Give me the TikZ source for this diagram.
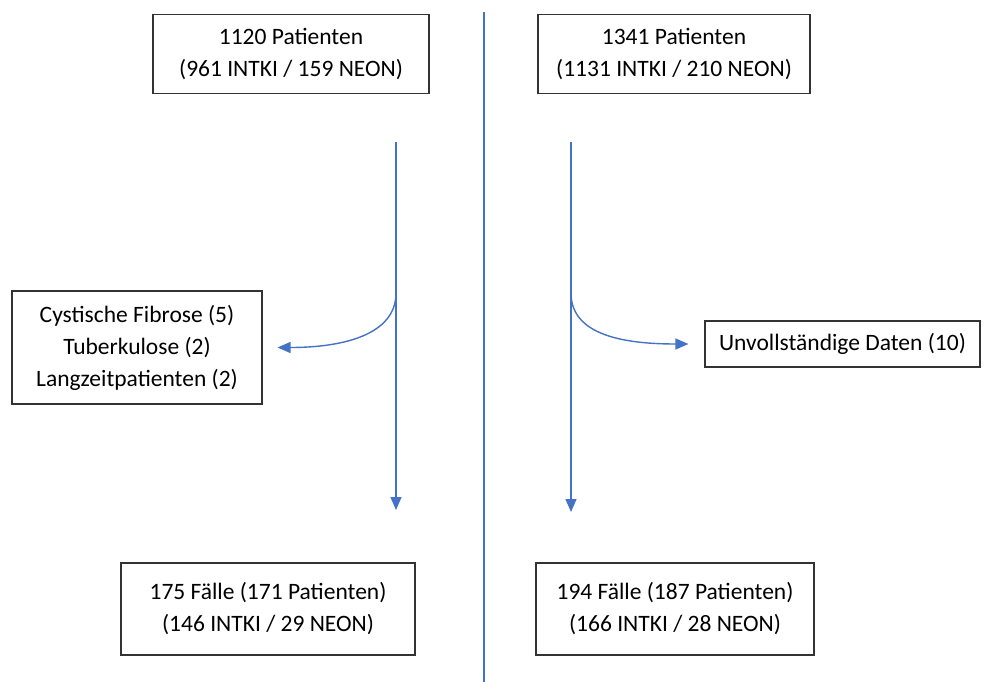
\documentclass[tikz,border=0pt]{standalone}
\usepackage{fontspec}
\setmainfont{Carlito}
\usetikzlibrary{arrows.meta}
\definecolor{flowblue}{RGB}{68,114,196}

\begin{document}
\begin{tikzpicture}[x=1pt,y=-1pt,
    box/.style={draw=black!80,line width=1.1pt,align=center,inner sep=0pt,
      font=\fontsize{23.5}{32}\selectfont},
    flow/.style={flowblue,line width=1.4pt,-{Triangle[length=13pt,width=11pt]}}]
  \useasboundingbox (0,0) rectangle (987,682);

  % divider between the two cohorts
  \coordinate (divider top) at (484,12);
  \coordinate (divider bottom) at (484,682);
  \draw[flowblue,line width=1.4pt] (divider top) -- (divider bottom);

  % left cohort
  \node[box,minimum width=276pt,minimum height=79pt] (start left) at (291,54)
    {1120 Patienten\\(961 INTKI / 159 NEON)};
  \node[box,minimum width=250pt,minimum height=113pt] (excl left) at (137,347.5)
    {Cystische Fibrose (5)\\Tuberkulose (2)\\Langzeitpatienten (2)};
  \node[box,minimum width=294pt,minimum height=92pt] (end left) at (268,609)
    {175 Fälle (171 Patienten)\\(146 INTKI / 29 NEON)};

  \coordinate (left top) at (396,142);
  \coordinate (left split) at (396,293);
  \coordinate (left bottom) at (396,510);
  \draw[flow] (left top) -- (left bottom);
  \draw[flow] (left split) .. controls +(0,42) and +(65,0) .. ([xshift=15pt]excl left.east);

  % right cohort
  \node[box,minimum width=272pt,minimum height=79pt] (start right) at (674,54)
    {1341 Patienten\\(1131 INTKI / 210 NEON)};
  \node[box,minimum width=275pt,minimum height=46pt] (excl right) at (842.5,344)
    {Unvollständige Daten (10)};
  \node[box,minimum width=278pt,minimum height=92pt] (end right) at (675,609)
    {194 Fälle (187 Patienten)\\(166 INTKI / 28 NEON)};

  \coordinate (right top) at (571,142);
  \coordinate (right split) at (571,293);
  \coordinate (right bottom) at (571,512);
  \draw[flow] (right top) -- (right bottom);
  \draw[flow] (right split) .. controls +(0,42) and +(-65,0) .. ([xshift=-16pt]excl right.west);
\end{tikzpicture}
\end{document}
